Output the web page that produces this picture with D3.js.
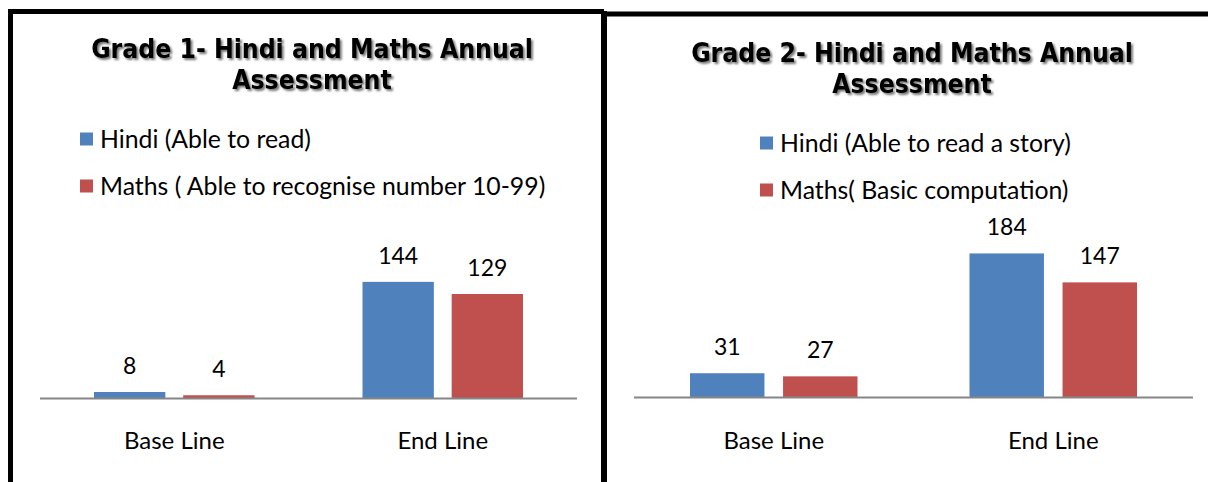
<!DOCTYPE html>
<html>
<head>
<meta charset="utf-8">
<script src="https://cdn.jsdelivr.net/npm/d3@7"></script>
<style>
  body { margin: 0; background: #fff; }
  svg { display: block; }
  .title { font-family: "DejaVu Sans Condensed", "DejaVu Sans", sans-serif; font-weight: bold; font-size: 26.3px; }
  .legend, .cat, .value { font-family: Lato, "Noto Sans", sans-serif; fill: #000; }
  .legend { font-size: 24.8px; }
  .cat { font-size: 24px; }
  .value { font-size: 23px; }
</style>
</head>
<body>
<script>

// chart data
var categories = ["Base Line", "End Line"];

var grade1Title = ["Grade 1- Hindi and Maths Annual", "Assessment"];
var grade1Series = ["Hindi (Able to read)", "Maths ( Able to recognise number 10-99)"];
var grade1Hindi = [8, 144];
var grade1Maths = [4, 129];

var grade2Title = ["Grade 2- Hindi and Maths Annual", "Assessment"];
var grade2Series = ["Hindi (Able to read a story)", "Maths( Basic computation)"];
var grade2Hindi = [31, 184];
var grade2Maths = [27, 147];

var colors = ["#4F81BD", "#C0504D"];

var width = 1208, height = 482;

var svg = d3.select("body").append("svg")
    .attr("width", width)
    .attr("height", height);

// soft grey shadow behind the titles, like the office text effect
var shadow = svg.append("defs").append("filter")
    .attr("id", "shadow")
    .attr("x", "-5%").attr("y", "-20%")
    .attr("width", "110%").attr("height", "140%");
shadow.append("feGaussianBlur").attr("in", "SourceAlpha").attr("stdDeviation", 1.2).attr("result", "b");
shadow.append("feOffset").attr("in", "b").attr("dx", 1.5).attr("dy", 1.5).attr("result", "o");
shadow.append("feComponentTransfer").attr("in", "o").attr("result", "s")
    .append("feFuncA").attr("type", "linear").attr("slope", 0.55);
var merge = shadow.append("feMerge");
merge.append("feMergeNode").attr("in", "s");
merge.append("feMergeNode").attr("in", "SourceGraphic");

// panel frames
svg.append("path")
    .attr("d", "M10.5,482 V11.5 H604")
    .attr("fill", "none").attr("stroke", "#000").attr("stroke-width", 5);
svg.append("line")
    .attr("x1", 604).attr("x2", 604).attr("y1", 11).attr("y2", 482)
    .attr("stroke", "#000").attr("stroke-width", 6);
svg.append("line")
    .attr("x1", 601).attr("x2", 1208).attr("y1", 14).attr("y2", 14)
    .attr("stroke", "#000").attr("stroke-width", 5);

drawPanel({
  title: grade1Title, titleX: 312, titleY: [58, 89],
  series: grade1Series, values: [grade1Hindi, grade1Maths],
  legendX: 80, legendY: [139, 186],
  xRange: [40, 577], yMax: 160, yRange: [398.5, 268.9],
  outer: 54, barGap: 18, catY: 449
});

drawPanel({
  title: grade2Title, titleX: 912, titleY: [62, 93],
  series: grade2Series, values: [grade2Hindi, grade2Maths],
  legendX: 760, legendY: [143, 190],
  xRange: [634, 1193], yMax: 200, yRange: [397.5, 240.9],
  outer: 56, barGap: 19, catY: 449
});

function drawPanel(c) {

  var g = svg.append("g");

  // title, two lines
  g.append("text")
      .attr("class", "title")
      .attr("text-anchor", "middle")
      .attr("filter", "url(#shadow)")
      .selectAll("tspan")
      .data(c.title)
      .enter().append("tspan")
      .attr("x", c.titleX)
      .attr("y", function(d, i) { return c.titleY[i]; })
      .text(function(d) { return d; });

  // legend
  var leg = g.selectAll(".leg")
      .data(c.series)
      .enter().append("g")
      .attr("transform", function(d, i) { return "translate(" + c.legendX + "," + c.legendY[i] + ")"; });
  leg.append("rect")
      .attr("x", 0).attr("y", -6.5)
      .attr("width", 13).attr("height", 13)
      .attr("fill", function(d, i) { return colors[i]; });
  leg.append("text")
      .attr("class", "legend")
      .attr("x", 20).attr("dy", "0.35em")
      .text(function(d) { return d; });

  // scales
  var step = (c.xRange[1] - c.xRange[0]) / categories.length;
  var x0 = d3.scaleBand()
      .domain(categories)
      .range(c.xRange)
      .paddingOuter(c.outer / step)
      .paddingInner(2 * c.outer / step);

  var x1 = d3.scaleBand()
      .domain(d3.range(c.series.length))
      .range([0, x0.bandwidth()])
      .paddingInner(0.2);

  var y = d3.scaleLinear()
      .domain([0, c.yMax])
      .range(c.yRange);

  var groups = g.selectAll(".cat-group")
      .data(categories)
      .enter().append("g")
      .attr("transform", function(d) { return "translate(" + x0(d) + ",0)"; });

  groups.selectAll("rect")
      .data(function(d, ci) { return c.values.map(function(v, si) { return {s: si, v: v[ci]}; }); })
      .enter().append("rect")
      .attr("x", function(d) { return x1(d.s); })
      .attr("width", x1.bandwidth())
      .attr("y", function(d) { return y(d.v); })
      .attr("height", function(d) { return y(0) - y(d.v); })
      .attr("fill", function(d) { return colors[d.s]; });

  groups.selectAll(".value")
      .data(function(d, ci) { return c.values.map(function(v, si) { return {s: si, v: v[ci]}; }); })
      .enter().append("text")
      .attr("class", "value")
      .attr("text-anchor", "middle")
      .attr("x", function(d) { return x1(d.s) + x1.bandwidth() / 2; })
      .attr("y", function(d) { return y(d.v) - 18; })
      .text(function(d) { return d.v; });

  // category axis, no ticks
  var axis = g.append("g")
      .attr("transform", "translate(0," + y(0) + ")")
      .call(d3.axisBottom(x0).tickSize(0).tickPadding(0));
  axis.select(".domain")
      .attr("d", "M" + c.xRange[0] + ",0H" + c.xRange[1])
      .attr("stroke", "#868686").attr("stroke-width", 2);
  axis.selectAll(".tick text")
      .attr("class", "cat")
      .attr("y", c.catY - y(0))
      .attr("dy", 0)
      .attr("fill", "#000")
      .style("font-size", null);
}

</script>
</body>
</html>
